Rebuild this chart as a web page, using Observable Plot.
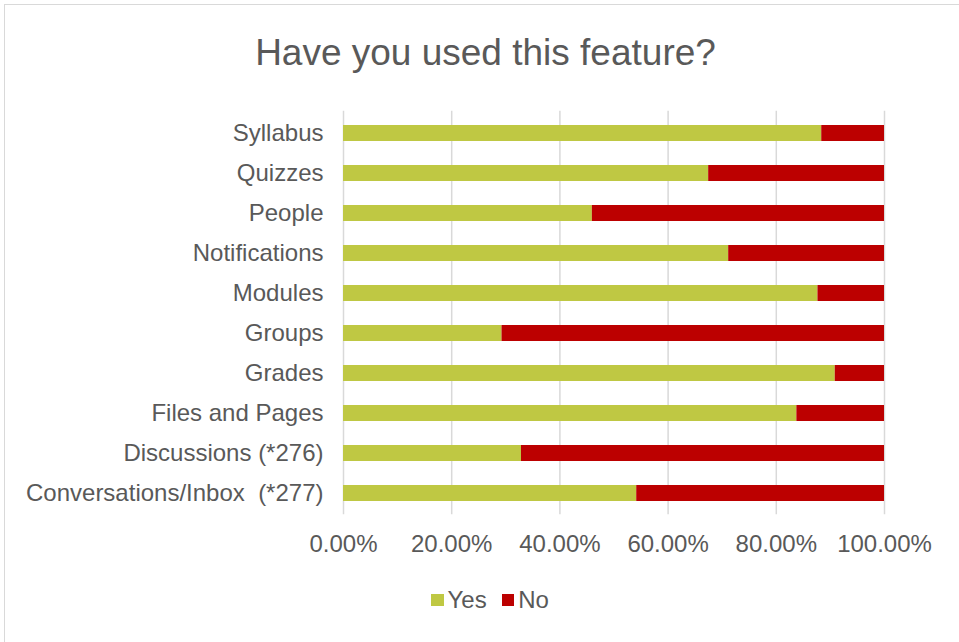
<!DOCTYPE html>
<html>
<head>
<meta charset="utf-8">
<script src="https://cdn.jsdelivr.net/npm/d3@7"></script>
<script src="https://cdn.jsdelivr.net/npm/@observablehq/plot@0.6"></script>
<style>
  html, body { margin: 0; padding: 0; background: #fff; }
  #page { position: relative; width: 959px; height: 642px; overflow: hidden; font-family: "Liberation Sans", Arial, sans-serif; color: #595959; }
  #frame { position: absolute; left: 4px; top: 4px; width: 980px; height: 700px; border-left: 1.5px solid #D9D9D9; border-top: 1.5px solid #D9D9D9; }
  #title { position: absolute; left: 0; width: 971px; top: 34px; text-align: center; font-size: 37px; line-height: 37px; white-space: nowrap; }
  #chart { position: absolute; left: 0; top: 0; }
  #legend { position: absolute; left: 431px; top: 587px; display: flex; align-items: center; font-size: 24px; line-height: 26px; }
  .item { display: flex; align-items: center; }
  .sw { width: 12.5px; height: 12.5px; margin-right: 4px; }
  .item + .item { margin-left: 15px; }
</style>
</head>
<body>
<div id="page">
  <div id="frame"></div>
  <div id="title">Have you used this feature?</div>
  <div id="chart"></div>
  <div id="legend"></div>
</div>
<script>
const features = ["Syllabus", "Quizzes", "People", "Notifications", "Modules", "Groups", "Grades", "Files and Pages", "Discussions (*276)", "Conversations/Inbox\u00a0\u00a0(*277)"];
const yesShare = [0.884, 0.675, 0.460, 0.712, 0.877, 0.293, 0.909, 0.838, 0.329, 0.542];
const noShare  = [0.116, 0.325, 0.540, 0.288, 0.123, 0.707, 0.091, 0.162, 0.671, 0.458];
const answers = ["Yes", "No"];
const answerColors = ["#BFC843", "#BC0000"];
const xTicks = [0, 0.2, 0.4, 0.6, 0.8, 1.0];

const rows = [];
features.forEach((f, i) => {
  rows.push({feature: f, answer: "Yes", value: yesShare[i]});
  rows.push({feature: f, answer: "No", value: noShare[i]});
});

const chart = Plot.plot({
  width: 959,
  height: 570,
  marginTop: 110.8,
  marginBottom: 55.8,
  marginLeft: 343,
  marginRight: 75,
  style: {fontFamily: "'Liberation Sans', Arial, sans-serif", fontSize: "24px", color: "#595959", background: "transparent", overflow: "visible"},
  x: {domain: [0, 1], label: null},
  y: {domain: features, paddingInner: 0.6, paddingOuter: 0.3, label: null},
  color: {domain: answers, range: answerColors},
  marks: [
    Plot.ruleX(xTicks, {stroke: "#D9D9D9", strokeWidth: 1.5}),
    Plot.barX(rows, {y: "feature", x: "value", fill: "answer"}),
    Plot.axisX({ticks: xTicks, tickSize: 0, tickPadding: 20, tickFormat: d3.format(".2%"), label: null, fill: "#595959"}),
    Plot.axisY({tickSize: 0, tickPadding: 20, label: null, fill: "#595959"})
  ]
});
document.getElementById("chart").appendChild(chart);

const legend = document.getElementById("legend");
answers.forEach((a, i) => {
  const item = document.createElement("div");
  item.className = "item";
  const sw = document.createElement("div");
  sw.className = "sw";
  sw.style.background = answerColors[i];
  const lab = document.createElement("span");
  lab.textContent = a;
  item.appendChild(sw);
  item.appendChild(lab);
  legend.appendChild(item);
});
</script>
</body>
</html>
